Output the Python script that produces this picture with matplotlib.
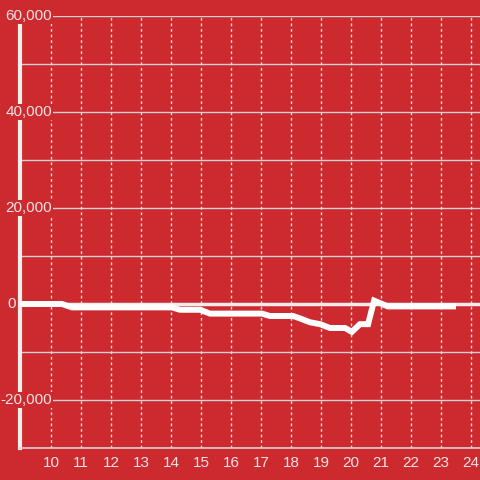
import matplotlib
matplotlib.use("Agg")
import matplotlib.pyplot as plt
import matplotlib.transforms as mtransforms

# data (hour of day, value)
hours = [8.97, 10.37, 10.7, 14.03, 14.3, 14.97, 15.3, 17.03, 17.3, 18.07,
         18.3, 18.63, 18.97, 19.3, 19.8, 20.03, 20.3, 20.57, 20.77, 21.23, 23.4]
values = [0, 0, -700, -700, -1200, -1200, -2000, -2000, -2500, -2500,
          -3000, -3800, -4200, -5000, -5000, -5800, -4200, -4200, 700, -500, -500]

x_ticks = list(range(10, 25))
y_ticks = [60000, 40000, 20000, 0, -20000]
y_labels = ["60,000", "40,000", "20,000", "0", "-20,000"]
y_grid = list(range(-30000, 60001, 10000))

BG = "#cd2a30"
FG = "#f3e4e4"

plt.rcParams["font.family"] = ["Liberation Sans", "DejaVu Sans"]

fig = plt.figure(figsize=(4.8, 4.8), dpi=100, facecolor=BG)
ax = fig.add_axes([20 / 480, 32 / 480, 460 / 480, 432 / 480], facecolor=BG)

ax.set_xlim(8.97, 24.3)
ax.set_ylim(-30000, 60000)

# grid
for y in y_grid:
    ax.axhline(y, color="#d9d0d0", lw=1.0, zorder=1)
for x in x_ticks:
    ax.axvline(x, color="#f0dada", lw=1.0, ls=(0, (2, 2)), zorder=1)
ax.axhline(0, color="#f5eaea", lw=2.5, zorder=2)

# series
ax.plot(hours, values, color="white", lw=4.3, solid_joinstyle="miter", zorder=3)

# spines
for s in ["top", "right"]:
    ax.spines[s].set_visible(False)
ax.spines["left"].set_color("#f5eeee")
ax.spines["left"].set_linewidth(3)
ax.spines["left"].set_bounds(-30000, 58400)
ax.spines["bottom"].set_color("#d9d0d0")
ax.spines["bottom"].set_linewidth(1.2)

ax.set_xticks(x_ticks)
ax.set_xticklabels([str(t) for t in x_ticks])
ax.tick_params(axis="x", length=0, pad=6, colors=FG, labelsize=11)
ax.set_yticks([])

# y labels drawn over the spine with background boxes
trans = mtransforms.blended_transform_factory(fig.transFigure, ax.transData)
for val, lab in zip(y_ticks, y_labels):
    xr = 16 / 480 if val == 0 else 52 / 480
    ax.text(xr, val, lab, transform=trans, ha="right", va="center",
            color=FG, fontsize=11, zorder=5, clip_on=False,
            bbox=dict(facecolor=BG, edgecolor="none", pad=0.5))

fig.savefig("out.png", dpi=100, facecolor=BG)
